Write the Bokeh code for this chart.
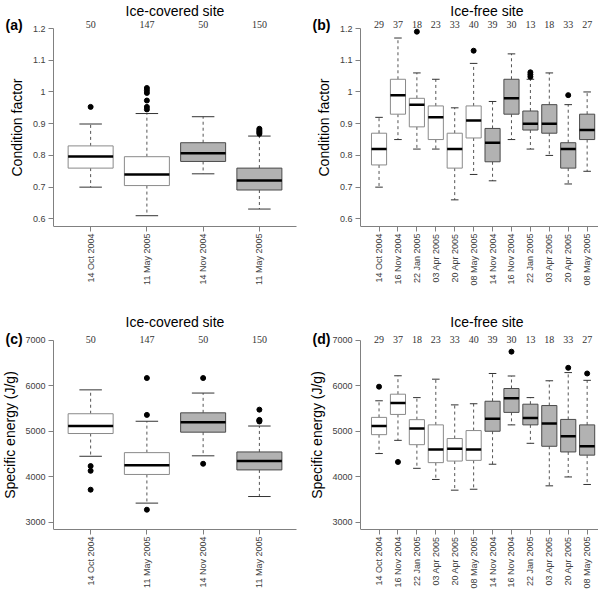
import math
from bokeh.plotting import figure
from bokeh.models import (Range1d, FixedTicker, NumeralTickFormatter, Label, LabelSet,
                          ColumnDataSource)
from bokeh.layouts import gridplot
from bokeh.embed import file_html
from bokeh.resources import INLINE

FONT = "Liberation Sans"

# ---------------- data ----------------
ice_dates = ["14 Oct 2004", "11 May 2005", "14 Nov 2004", "11 May 2005"]
ice_n = [50, 147, 50, 150]
ice_group = ["white", "white", "grey", "grey"]

free_dates = ["14 Oct 2004", "16 Nov 2004", "22 Jan 2005", "03 Apr 2005", "20 Apr 2005", "08 May 2005",
              "14 Nov 2004", "16 Nov 2004", "22 Jan 2005", "03 Apr 2005", "20 Apr 2005", "08 May 2005"]
free_n = [29, 37, 18, 23, 33, 40, 39, 30, 13, 18, 33, 27]
free_group = ["white"] * 6 + ["grey"] * 6

# (a) condition factor, ice-covered site
a_low = [0.700, 0.610, 0.742, 0.631]
a_q1 = [0.760, 0.705, 0.781, 0.691]
a_med = [0.797, 0.740, 0.807, 0.721]
a_q3 = [0.830, 0.796, 0.840, 0.760]
a_high = [0.899, 0.932, 0.922, 0.861]
a_out = [[0.953], [0.945, 0.953, 0.973, 0.997, 1.005, 1.0125], [], [0.868, 0.872, 0.876, 0.880, 0.884]]

# (b) condition factor, ice-free site
b_low = [0.70, 0.85, 0.82, 0.82, 0.66, 0.74, 0.72, 0.85, 0.82, 0.80, 0.71, 0.75]
b_q1 = [0.77, 0.93, 0.89, 0.85, 0.76, 0.855, 0.78, 0.93, 0.88, 0.87, 0.76, 0.85]
b_med = [0.82, 0.99, 0.96, 0.92, 0.82, 0.91, 0.84, 0.98, 0.90, 0.90, 0.82, 0.88]
b_q3 = [0.87, 1.04, 0.98, 0.956, 0.87, 0.956, 0.885, 1.04, 0.94, 0.96, 0.84, 0.93]
b_high = [0.92, 1.17, 1.06, 1.04, 0.95, 1.09, 0.97, 1.12, 1.04, 1.06, 0.96, 1.00]
b_out = [[], [], [1.19], [], [], [1.13], [], [], [1.048, 1.055, 1.062], [], [0.99], []]

# (c) specific energy, ice-covered site
c_low = [4450, 3420, 4460, 3565]
c_q1 = [4950, 4050, 4980, 4150]
c_med = [5115, 4255, 5200, 4345]
c_q3 = [5385, 4530, 5405, 4545]
c_high = [5910, 5220, 5840, 5115]
c_out = [[4235, 4130, 3715], [6170, 5360, 3275], [6170, 4285], [5475, 5250, 5235, 5215]]

# (d) specific energy, ice-free site
d_low = [4510, 4800, 4185, 3940, 3705, 3725, 4275, 5140, 4735, 3800, 3995, 3830]
d_q1 = [4925, 5370, 4705, 4310, 4345, 4360, 5000, 5415, 5140, 4670, 4545, 4475]
d_med = [5115, 5620, 5060, 4600, 4615, 4600, 5275, 5725, 5290, 5170, 4890, 4670]
d_q3 = [5305, 5815, 5255, 5140, 4840, 5015, 5660, 5940, 5595, 5565, 5260, 5140]
d_high = [5670, 6220, 5740, 6145, 5580, 5605, 6270, 6215, 5740, 6110, 6290, 6120]
d_out = [[5980], [4325], [], [], [], [], [], [6750], [], [], [6395], [6270]]

cf_ticks = [0.6, 0.7, 0.8, 0.9, 1.0, 1.1, 1.2]
se_ticks = [3000, 4000, 5000, 6000, 7000]

FILL = {"white": "white", "grey": "#b2b2b2"}
EDGE = {"white": "#8a8a8a", "grey": "#4a4a4a"}
AXIS_C = "#808080"


def panel(tag, title, dates, counts, groups, low, q1, med, q3, high, outs,
          ylabel, yticks, yfmt, y0, xr, title_x, width, height, axis_px, br, bb,
          top_px, title_off, count_off, lab_std):
    n = len(dates)
    ytop = yticks[-1]
    frame_h = height - bb
    ppu = (frame_h - top_px) / (ytop - y0)
    y1 = ytop + top_px / ppu
    frame_w = width - br
    ppx = (frame_w - axis_px) / (xr[1] - xr[0])
    x_start = xr[0] - axis_px / ppx
    p = figure(width=width, height=height, x_range=Range1d(x_start, xr[1]), y_range=Range1d(y0, y1),
               output_backend="svg", toolbar_location=None,
               min_border_left=0, min_border_right=br, min_border_top=0, min_border_bottom=bb)
    p.grid.visible = False
    p.outline_line_color = None
    p.background_fill_color = "white"
    p.border_fill_color = "white"

    xs = list(range(1, n + 1))
    fills = [FILL[g] for g in groups]
    edges = [EDGE[g] for g in groups]
    src = ColumnDataSource(dict(
        x=xs, l=[x - 0.4 for x in xs], r=[x + 0.4 for x in xs],
        sl=[x - 0.2 for x in xs], sr=[x + 0.2 for x in xs],
        low=low, q1=q1, med=med, q3=q3, high=high, fill=fills, edge=edges,
    ))
    # whiskers
    p.segment(x0="x", y0="q3", x1="x", y1="high", source=src, line_color="#555555",
              line_dash="3 3", line_width=1)
    p.segment(x0="x", y0="q1", x1="x", y1="low", source=src, line_color="#555555",
              line_dash="3 3", line_width=1)
    p.segment(x0="sl", y0="high", x1="sr", y1="high", source=src, line_color="#333333", line_width=1)
    p.segment(x0="sl", y0="low", x1="sr", y1="low", source=src, line_color="#333333", line_width=1)
    # boxes
    p.quad(left="l", right="r", bottom="q1", top="q3", source=src, fill_color="fill",
           line_color="edge", line_width=1)
    p.segment(x0="l", y0="med", x1="r", y1="med", source=src, line_color="black", line_width=2.5)
    # outliers
    ox, oy = [], []
    for i, vals in enumerate(outs):
        for v in vals:
            ox.append(i + 1)
            oy.append(v)
    p.scatter(ox, oy, size=5, color="black")

    # axes
    p.xaxis.ticker = FixedTicker(ticks=xs)
    p.xaxis.major_label_overrides = {i + 1: d for i, d in enumerate(dates)}
    p.xaxis.major_label_orientation = math.pi / 2
    p.xaxis.major_label_standoff = 2
    p.xaxis.bounds = (xr[0], xr[1])
    p.yaxis.ticker = FixedTicker(ticks=yticks)
    p.yaxis.formatter = NumeralTickFormatter(format=yfmt)
    p.yaxis.major_label_standoff = 3
    p.yaxis.bounds = (y0, ytop)
    p.yaxis.fixed_location = xr[0]
    p.axis.minor_tick_line_color = None
    p.axis.major_tick_in = 0
    p.axis.major_tick_out = 5
    p.axis.axis_line_color = AXIS_C
    p.axis.major_tick_line_color = AXIS_C
    p.axis.major_label_text_font = FONT
    p.axis.major_label_text_font_size = "9px"
    p.axis.major_label_text_color = "#404040"
    p.yaxis.axis_label = ylabel
    p.yaxis.axis_label_text_font = FONT
    p.yaxis.axis_label_text_font_size = "14px"
    p.yaxis.axis_label_text_font_style = "normal"
    p.yaxis.axis_label_text_color = "black"
    p.yaxis.axis_label_standoff = lab_std

    # counts, title and panel tag inside the (extended) frame
    y_count = ytop + count_off / ppu
    src_n = ColumnDataSource(dict(x=xs, y=[y_count] * n, n=[str(c) for c in counts]))
    p.add_layout(LabelSet(x="x", y="y", text="n", source=src_n, text_align="center",
                          text_baseline="middle", text_font_size="10px", text_font=FONT,
                          text_color="#333333"))
    p.add_layout(Label(x=title_x, y=ytop + title_off / ppu, text=title,
                       text_align="center", text_baseline="middle", text_font=FONT,
                       text_font_size="14px", text_color="black"))
    p.add_layout(Label(x=xr[0] - 48 / ppx, y=y_count, text=tag, text_align="left",
                       text_baseline="middle", text_font=FONT, text_font_size="14px",
                       text_font_style="bold", text_color="black"))
    return p


LW, RW = 305, 293
TH, BH = 292, 299
ice_xr = (0.34, 4.66)
free_xr = (0.02, 12.6)

pa = panel("(a)", "Ice-covered site", ice_dates, ice_n, ice_group,
           a_low, a_q1, a_med, a_q3, a_high, a_out, "Condition factor", cf_ticks, "0.[0]",
           0.576, ice_xr, 2.5, LW, TH, 53, 9, 66, 28, 18, 4, 5)
pb = panel("(b)", "Ice-free site", free_dates, free_n, free_group,
           b_low, b_q1, b_med, b_q3, b_high, b_out, "Condition factor", cf_ticks, "0.[0]",
           0.576, free_xr, 6.7, RW, TH, 55, 0, 66, 28, 18, 4, 5)
pc = panel("(c)", "Ice-covered site", ice_dates, ice_n, ice_group,
           c_low, c_q1, c_med, c_q3, c_high, c_out, "Specific energy (J/g)", se_ticks, "0",
           2840, ice_xr, 2.5, LW, BH, 53, 9, 56, 49, 19, 1, 4)
pd_ = panel("(d)", "Ice-free site", free_dates, free_n, free_group,
            d_low, d_q1, d_med, d_q3, d_high, d_out, "Specific energy (J/g)", se_ticks, "0",
            2840, free_xr, 6.7, RW, BH, 55, 0, 56, 49, 19, 1, 4)

grid = gridplot([[pa, pb], [pc, pd_]], toolbar_location=None)

open("out.html", "w").write(file_html(grid, INLINE))
